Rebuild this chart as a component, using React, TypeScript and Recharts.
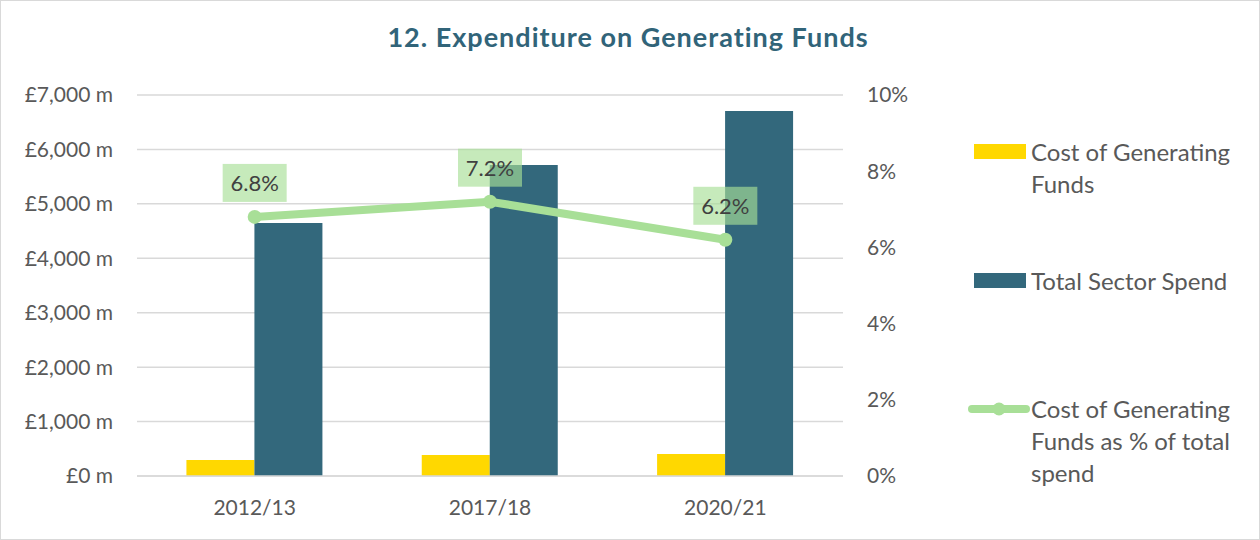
import React from 'react';
import { ComposedChart, Bar, Line, XAxis, YAxis, CartesianGrid, LabelList } from 'recharts';

// Chart values
const years = ['2012/13', '2017/18', '2020/21'];
const costOfGenerating = [295, 388, 404];
const totalSpend = [4650, 5715, 6705];
const costShare = [0.068, 0.072, 0.062];

const leftTicks = [0, 1000, 2000, 3000, 4000, 5000, 6000, 7000];
const rightTicks = [0, 0.02, 0.04, 0.06, 0.08, 0.1];

const seriesNames = [
  'Cost of Generating Funds',
  'Total Sector Spend',
  'Cost of Generating Funds as % of total spend',
];

const YELLOW = '#ffd800';
const TEAL = '#33687c';
const GREEN = '#a8df97';
const FONT = 'Lato, "Open Sans", sans-serif';

const chartData = years.map((year, i) => ({
  year,
  cost: costOfGenerating[i],
  total: totalSpend[i],
  share: costShare[i],
}));

const formatPounds = (v: number) => `£${v.toLocaleString('en-GB')} m`;
const formatPct = (v: number) => `${Math.round(v * 100)}%`;

// Shaded box label sitting above each point of the line
const ShareLabel = (props: any) => {
  const { x, y, value } = props;
  if (x == null || y == null) return null;
  return (
    <g>
      <rect x={x - 32} y={y - 53} width={64} height={38} fill={GREEN} fillOpacity={0.65} />
      <text
        x={x}
        y={y - 34}
        dy="0.36em"
        textAnchor="middle"
        fontSize={22}
        fontFamily={FONT}
        fill="#404040"
      >
        {(value * 100).toFixed(1)}%
      </text>
    </g>
  );
};

const LegendBlock = () => {
  const tops = [136, 265, 393];
  return (
    <>
      {seriesNames.map((name, i) => (
        <div key={name} style={{ position: 'absolute', left: 0, top: tops[i], width: 1260 }}>
          {i < 2 ? (
            <div
              style={{
                position: 'absolute',
                left: 974,
                top: 8,
                width: 52,
                height: 15,
                background: i === 0 ? YELLOW : TEAL,
              }}
            />
          ) : (
            <svg style={{ position: 'absolute', left: 968, top: 6 }} width={62} height={20}>
              <line x1={4} y1={10} x2={58} y2={10} stroke={GREEN} strokeWidth={8} strokeLinecap="round" />
              <circle cx={31} cy={10} r={6.5} fill={GREEN} />
            </svg>
          )}
          <div
            style={{
              position: 'absolute',
              left: 1031,
              top: 0,
              width: 226,
              fontFamily: FONT,
              fontSize: 24,
              lineHeight: '32px',
              color: '#595959',
            }}
          >
            {name}
          </div>
        </div>
      ))}
    </>
  );
};

const App: React.FC = () => {
  const tickStyle = { fontSize: 21, fontFamily: FONT, fill: '#595959' };

  return (
    <div style={{ position: 'absolute', left: 0, top: 0, width: 1260, height: 540, background: '#fff' }}>
      <div
        style={{
          position: 'absolute',
          left: 0,
          top: 0,
          width: 1258,
          height: 538,
          border: '1px solid #d9d9d9',
          pointerEvents: 'none',
        }}
      />
      <div
        style={{
          position: 'absolute',
          left: 0,
          top: 17,
          width: 1256,
          textAlign: 'center',
          fontFamily: FONT,
          fontWeight: 700,
          fontSize: 27,
          letterSpacing: 1,
          lineHeight: '40px',
          color: '#316479',
        }}
      >
        12. Expenditure on Generating Funds
      </div>
      <div style={{ position: 'absolute', left: 0, top: 0 }}>
        <ComposedChart
          width={1260}
          height={540}
          data={chartData}
          margin={{ top: 95, right: 0, bottom: 0, left: 0 }}
          barCategoryGap="21%"
          barGap={0}
        >
          <CartesianGrid vertical={false} stroke="#d9d9d9" strokeWidth={1.5} yAxisId="left" />
          <XAxis
            dataKey="year"
            height={64}
            tickLine={false}
            tickSize={0}
            tickMargin={24}
            axisLine={{ stroke: '#d9d9d9', strokeWidth: 1.5 }}
            tick={tickStyle}
          />
          <YAxis
            yAxisId="left"
            width={137}
            domain={[0, 7000]}
            ticks={leftTicks}
            tickFormatter={formatPounds}
            axisLine={false}
            tickLine={false}
            tickSize={0}
            tickMargin={24}
            tick={tickStyle}
          />
          <YAxis
            yAxisId="right"
            orientation="right"
            width={417}
            domain={[0, 0.1]}
            ticks={rightTicks}
            tickFormatter={formatPct}
            axisLine={false}
            tickLine={false}
            tickSize={0}
            tickMargin={24}
            tick={tickStyle}
          />
          <Bar yAxisId="left" dataKey="cost" name={seriesNames[0]} fill={YELLOW} isAnimationActive={false} />
          <Bar yAxisId="left" dataKey="total" name={seriesNames[1]} fill={TEAL} isAnimationActive={false} />
          <Line
            yAxisId="right"
            dataKey="share"
            name={seriesNames[2]}
            stroke={GREEN}
            strokeWidth={8}
            dot={{ r: 7, fill: GREEN, stroke: GREEN, strokeWidth: 0 }}
            activeDot={false}
            isAnimationActive={false}
          >
            <LabelList dataKey="share" content={<ShareLabel />} />
          </Line>
        </ComposedChart>
      </div>
      <LegendBlock />
    </div>
  );
};

export default App;
